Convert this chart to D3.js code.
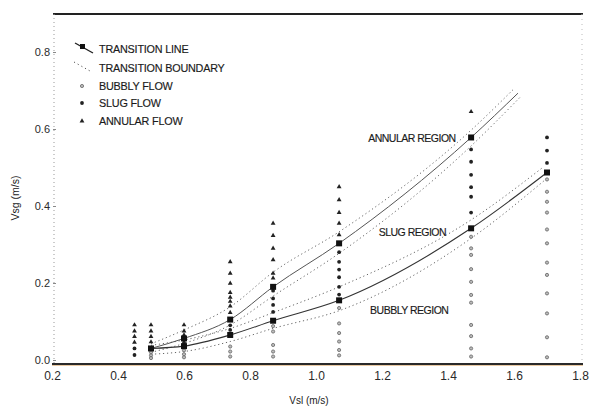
<!DOCTYPE html>
<html><head><meta charset="utf-8">
<script src="https://cdnjs.cloudflare.com/ajax/libs/d3/7.8.5/d3.min.js"></script>
<style>
body{margin:0;background:#fff;}
svg{display:block;font-family:"Liberation Sans",Arial,sans-serif;}
</style></head>
<body><svg id="c" width="591" height="410"></svg>
<script>
// ---- data ----
const xTicks = [0.2,0.4,0.6,0.8,1.0,1.2,1.4,1.6,1.8];
const yTicks = [0.0,0.2,0.4,0.6,0.8];
const legendLabels = ["TRANSITION LINE","TRANSITION BOUNDARY","BUBBLY FLOW","SLUG FLOW","ANNULAR FLOW"];
const regionLabels = [
  {text:"ANNULAR REGION", x:1.158, y:0.577},
  {text:"SLUG REGION", x:1.19, y:0.333},
  {text:"BUBBLY REGION", x:1.164, y:0.130}
];
// transition lines (squares at measured columns)
const lowerTransition = [[0.5,0.030],[0.6,0.036],[0.74,0.065],[0.87,0.102],[1.07,0.155],[1.47,0.342],[1.70,0.487]];
const upperTransition = [[0.5,0.030],[0.6,0.056],[0.74,0.105],[0.87,0.190],[1.07,0.303],[1.47,0.578]];
const upperTransitionEnd = [1.612,0.693];
// transition boundaries (dotted)
const upperBoundHigh = [[0.5,0.042],[0.6,0.078],[0.74,0.138],[0.87,0.228],[1.07,0.333],[1.47,0.597],[1.597,0.702]];
const upperBoundLow  = [[0.5,0.020],[0.6,0.043],[0.74,0.091],[0.87,0.166],[1.07,0.277],[1.47,0.556],[1.618,0.682]];
const lowerBoundHigh = [[0.5,0.038],[0.6,0.052],[0.74,0.082],[0.87,0.123],[1.07,0.190],[1.47,0.364],[1.69,0.502]];
const lowerBoundLow  = [[0.5,0.015],[0.6,0.022],[0.74,0.048],[0.87,0.082],[1.07,0.128],[1.47,0.316],[1.70,0.472]];
// flow observations: column x and its Vsg values
const bubblyFlow = [
  {x:0.5, ys:[0.020,0.012,0.005]},
  {x:0.6, ys:[0.025,0.015,0.007]},
  {x:0.74, ys:[0.035,0.022,0.009]},
  {x:0.87, ys:[0.088,0.074,0.039,0.022,0.009]},
  {x:1.07, ys:[0.135,0.095,0.070,0.048,0.026,0.012]},
  {x:1.47, ys:[0.320,0.290,0.273,0.236,0.203,0.169,0.149,0.091,0.062,0.030,0.009]},
  {x:1.70, ys:[0.469,0.437,0.411,0.383,0.339,0.303,0.253,0.221,0.173,0.121,0.059,0.007]}
];
const slugFlow = [
  {x:0.45, ys:[0.030,0.013]},
  {x:0.6, ys:[0.045]},
  {x:0.74, ys:[0.090,0.078]},
  {x:0.87, ys:[0.180,0.160,0.143,0.125]},
  {x:1.07, ys:[0.280,0.255,0.235,0.215,0.190,0.170]},
  {x:1.47, ys:[0.547,0.515,0.481,0.449,0.424,0.383]},
  {x:1.70, ys:[0.578,0.544,0.512]}
];
const annularFlow = [
  {x:0.45, ys:[0.091,0.075,0.061,0.046]},
  {x:0.5, ys:[0.091,0.075,0.061,0.047]},
  {x:0.6, ys:[0.091,0.075,0.065]},
  {x:0.74, ys:[0.255,0.225,0.199,0.175,0.163,0.152,0.140,0.123]},
  {x:0.87, ys:[0.355,0.323,0.290,0.260,0.225,0.213]},
  {x:1.07, ys:[0.450,0.416,0.383,0.355,0.325]},
  {x:1.47, ys:[0.645]}
];

// ---- drawing ----
const svg = d3.select("#c");
const x = d3.scaleLinear().domain([0.2,1.8]).range([52,580]);
const y = d3.scaleLinear().domain([0,0.9]).range([360,13.5]);
const flat = arr => arr.flatMap(d => d.ys.map(v => [d.x, v]));

// frame
svg.append("line").attr("x1",53).attr("x2",583).attr("y1",14).attr("y2",14).attr("stroke","#222").attr("stroke-width",2);
svg.append("line").attr("x1",54).attr("x2",54).attr("y1",14).attr("y2",364).attr("stroke","#999").attr("stroke-width",1).attr("stroke-dasharray","1,3");
svg.append("line").attr("x1",582).attr("x2",582).attr("y1",14).attr("y2",364).attr("stroke","#bbb").attr("stroke-width",1).attr("stroke-dasharray","1,4");
svg.append("line").attr("x1",52).attr("x2",583).attr("y1",364).attr("y2",364).attr("stroke","#2a2a2a").attr("stroke-width",2);
svg.append("line").attr("x1",52).attr("x2",583).attr("y1",365.5).attr("y2",365.5).attr("stroke","#d9a05a").attr("stroke-width",0.8).attr("opacity",0.7);

// axes
const xAxis = d3.axisBottom(x).tickValues(xTicks).tickFormat(d3.format(".1f")).tickSize(0).tickPadding(7);
const gx = svg.append("g").attr("transform","translate(0,364)").call(xAxis);
gx.select(".domain").remove();
gx.selectAll("text").attr("font-size",12).attr("fill","#2a2a2a");

const yAxis = d3.axisLeft(y).tickValues(yTicks).tickFormat(d3.format(".1f")).tickSize(3).tickPadding(3);
const gy = svg.append("g").attr("transform","translate(56,0)").call(yAxis);
gy.select(".domain").remove();
gy.selectAll("line").attr("stroke","#888");
gy.selectAll("text").attr("font-size",11).attr("fill","#2a2a2a");

svg.append("text").attr("transform","translate(19,198) rotate(-90)").attr("text-anchor","middle")
  .attr("font-size",10.5).attr("fill","#222").text("Vsg (m/s)");
svg.append("text").attr("x",309).attr("y",404).attr("text-anchor","middle")
  .attr("font-size",10).attr("fill","#222").text("Vsl (m/s)");

// lines
const line = d3.line().x(d => x(d[0])).y(d => y(d[1])).curve(d3.curveMonotoneX);
[upperBoundHigh, upperBoundLow, lowerBoundHigh, lowerBoundLow].forEach(b => {
  svg.append("path").attr("d", line(b)).attr("fill","none").attr("stroke","#666")
    .attr("stroke-width",1).attr("stroke-dasharray","1.2,2.8");
});
svg.append("path").attr("d", line(upperTransition.concat([upperTransitionEnd]))).attr("fill","none").attr("stroke","#555").attr("stroke-width",1);
svg.append("path").attr("d", line(lowerTransition)).attr("fill","none").attr("stroke","#333").attr("stroke-width",1.1);

// observations
const bub = svg.append("g");
bub.selectAll("circle").data(flat(bubblyFlow)).join("circle")
  .attr("cx", d => x(d[0])).attr("cy", d => y(d[1])).attr("r",1.6)
  .attr("fill","#bbb").attr("stroke","#666").attr("stroke-width",0.8);
const slug = svg.append("g");
slug.selectAll("circle").data(flat(slugFlow)).join("circle")
  .attr("cx", d => x(d[0])).attr("cy", d => y(d[1])).attr("r",1.9).attr("fill","#222");
const tri = d3.symbol().type(d3.symbolTriangle).size(10);
const ann = svg.append("g");
ann.selectAll("path").data(flat(annularFlow)).join("path")
  .attr("transform", d => `translate(${x(d[0])},${y(d[1])})`).attr("d", tri).attr("fill","#222");

// squares on transition lines
const sq = lowerTransition.concat(upperTransition).filter(d => d[0] > 0.5 || d === lowerTransition[0]);
svg.append("g").selectAll("rect").data(sq).join("rect")
  .attr("x", d => x(d[0]) - 3).attr("y", d => y(d[1]) - 3).attr("width",6).attr("height",6).attr("fill","#111");

// region labels
svg.append("g").selectAll("text").data(regionLabels).join("text")
  .attr("x", d => x(d.x)).attr("y", d => y(d.y) + 4).attr("font-size",10.5).attr("letter-spacing",-0.5)
  .attr("fill","#1a1a1a").attr("stroke","#1a1a1a").attr("stroke-width",0.15).text(d => d.text);

// legend
const lg = svg.append("g");
const rowY = [49,68,86,103,121];
lg.selectAll("text").data(legendLabels).join("text")
  .attr("x",99).attr("y",(d,i) => rowY[i] + 4).attr("font-size",10.8).attr("letter-spacing",-0.2)
  .attr("fill","#1a1a1a").attr("stroke","#1a1a1a").attr("stroke-width",0.15).text(d => d);
lg.append("line").attr("x1",75).attr("y1",43).attr("x2",93).attr("y2",53).attr("stroke","#222").attr("stroke-width",1.4);
lg.append("rect").attr("x",80).attr("y",44).attr("width",5).attr("height",5).attr("fill","#111");
lg.append("line").attr("x1",74).attr("y1",62).attr("x2",90).attr("y2",71).attr("stroke","#555").attr("stroke-width",1).attr("stroke-dasharray","1.2,3");
lg.append("circle").attr("cx",82).attr("cy",rowY[2]).attr("r",1.6).attr("fill","#bbb").attr("stroke","#666").attr("stroke-width",0.8);
lg.append("circle").attr("cx",82).attr("cy",rowY[3]).attr("r",1.9).attr("fill","#222");
lg.append("path").attr("transform",`translate(82,${rowY[4]})`).attr("d",tri).attr("fill","#222");
</script></body></html>
